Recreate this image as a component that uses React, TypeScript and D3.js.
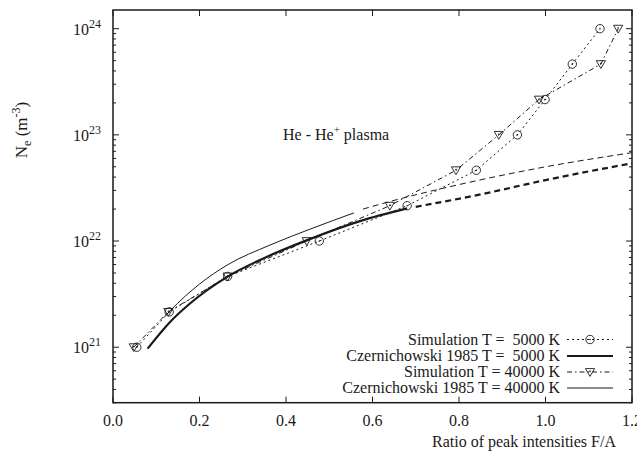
import React from "react";
import * as d3 from "d3";

// Simulation T = 5000 K (circles)
const sim5000X = [0.055, 0.13, 0.265, 0.477, 0.68, 0.84, 0.935, 0.999, 1.062, 1.126];
const sim5000Y = [1.0e21, 2.15e21, 4.64e21, 1.0e22, 2.15e22, 4.64e22, 1.0e23, 2.15e23, 4.64e23, 1.0e24];
// Simulation T = 40000 K (triangles)
const sim40000X = [0.048, 0.128, 0.265, 0.448, 0.64, 0.793, 0.892, 0.985, 1.128, 1.168];
const sim40000Y = [1.0e21, 2.15e21, 4.64e21, 1.0e22, 2.15e22, 4.64e22, 1.0e23, 2.15e23, 4.64e23, 1.0e24];
// Czernichowski 1985 T = 5000 K (thick) solid + extrapolated dashed
const cz5000X = [0.08, 0.132, 0.178, 0.264, 0.356, 0.449, 0.571, 0.68];
const cz5000Y = [0.97e21, 1.73e21, 2.58e21, 4.6e21, 7.1e21, 1.02e22, 1.54e22, 2.03e22];
const cz5000ExtX = [0.70, 0.85, 1.0, 1.2];
const cz5000ExtY = [2.1e22, 2.75e22, 3.75e22, 5.4e22];
// Czernichowski 1985 T = 40000 K (thin) solid + extrapolated dashed
const cz40000X = [0.12, 0.132, 0.2, 0.264, 0.363, 0.457, 0.557];
const cz40000Y = [1.95e21, 2.2e21, 3.93e21, 5.94e21, 9.16e21, 1.3e22, 1.84e22];
const cz40000ExtX = [0.578, 0.664, 0.8, 1.0, 1.2];
const cz40000ExtY = [2.0e22, 2.5e22, 3.4e22, 5.0e22, 6.8e22];

const xTicks = [0.0, 0.2, 0.4, 0.6, 0.8, 1.0, 1.2];
const xTickLabels = ["0.0", "0.2", "0.4", "0.6", "0.8", "1.0", "1.2"];
const yExponents = [21, 22, 23, 24];

const legendLabels = [
  "Simulation T =  5000 K",
  "Czernichowski 1985 T =  5000 K",
  "Simulation T = 40000 K",
  "Czernichowski 1985 T = 40000 K",
];

const W = 637;
const H = 454;
const L = 113, R = 632, T = 10, B = 402.7;
const INK = "#1a1a1a";
const FONT = "'Liberation Serif', 'Times New Roman', serif";
const FS = 16;

const zip = (xs: number[], ys: number[]) => xs.map((x, i) => [x, ys[i]] as [number, number]);

export default function App() {
  const x = d3.scaleLinear().domain([0, 1.2]).range([L, R]);
  const y = d3.scaleLog().domain([3e20, 1.5e24]).range([B, T]);
  const line = d3
    .line<[number, number]>()
    .x((d) => x(d[0]))
    .y((d) => y(d[1]));
  const smooth = d3
    .line<[number, number]>()
    .x((d) => x(d[0]))
    .y((d) => y(d[1]))
    .curve(d3.curveMonotoneX);

  const minorTicks: number[] = [];
  for (let e = 20; e <= 24; e++) {
    for (let m = 2; m <= 9; m++) {
      const v = m * Math.pow(10, e);
      if (v >= 3e20 && v <= 1.5e24) minorTicks.push(v);
    }
  }

  const circle = (cx: number, cy: number, k: string) => (
    <g key={k}>
      <circle cx={cx} cy={cy} r={4.2} fill="none" stroke={INK} strokeWidth={0.9} />
      <circle cx={cx} cy={cy} r={0.8} fill={INK} />
    </g>
  );
  const tri = (cx: number, cy: number, k: string) => (
    <g key={k}>
      <path
        d={`M${cx - 4.6},${cy - 3.4} L${cx + 4.6},${cy - 3.4} L${cx},${cy + 4.4} Z`}
        fill="none"
        stroke={INK}
        strokeWidth={0.9}
      />
      <circle cx={cx} cy={cy - 0.6} r={0.8} fill={INK} />
    </g>
  );

  const sim5 = zip(sim5000X, sim5000Y);
  const sim40 = zip(sim40000X, sim40000Y);

  const legendY = [339.5, 356, 372, 388];
  const legendTextX = 560;
  const lx0 = 567, lx1 = 613, lmx = 590;

  return (
    <svg
      width={W}
      height={H}
      style={{ position: "absolute", left: 0, top: 0, background: "#fff" }}
      fontFamily={FONT}
    >
      <rect x={0} y={0} width={W} height={H} fill="#fff" />
      {/* curves */}
      <path d={smooth(zip(cz40000X, cz40000Y)) || ""} fill="none" stroke={INK} strokeWidth={1} />
      <path
        d={smooth(zip(cz40000ExtX, cz40000ExtY)) || ""}
        fill="none"
        stroke={INK}
        strokeWidth={1}
        strokeDasharray="6,4"
      />
      <path d={smooth(zip(cz5000X, cz5000Y)) || ""} fill="none" stroke={INK} strokeWidth={2.2} />
      <path
        d={smooth(zip(cz5000ExtX, cz5000ExtY)) || ""}
        fill="none"
        stroke={INK}
        strokeWidth={2.2}
        strokeDasharray="6,4"
      />
      <path d={line(sim5) || ""} fill="none" stroke={INK} strokeWidth={1} strokeDasharray="2,3" />
      <path d={line(sim40) || ""} fill="none" stroke={INK} strokeWidth={1} strokeDasharray="5,3,1.5,3" />
      {sim5.map((d, i) => circle(x(d[0]), y(d[1]), "c" + i))}
      {sim40.map((d, i) => tri(x(d[0]), y(d[1]), "t" + i))}

      {/* frame */}
      <rect x={L} y={T} width={R - L} height={B - T} fill="none" stroke={INK} strokeWidth={1.5} />
      {/* x ticks */}
      {xTicks.map((v, i) => (
        <g key={"xt" + i}>
          <line x1={x(v)} x2={x(v)} y1={B} y2={B - 6} stroke={INK} strokeWidth={1} />
          <line x1={x(v)} x2={x(v)} y1={T} y2={T + 6} stroke={INK} strokeWidth={1} />
          <text x={x(v)} y={426} fontSize={FS} textAnchor="middle" fill={INK}>
            {xTickLabels[i]}
          </text>
        </g>
      ))}
      {/* y ticks */}
      {yExponents.map((e) => {
        const yy = y(Math.pow(10, e));
        return (
          <g key={"ye" + e}>
            <line x1={L} x2={L + 6} y1={yy} y2={yy} stroke={INK} strokeWidth={1} />
            <line x1={R} x2={R - 6} y1={yy} y2={yy} stroke={INK} strokeWidth={1} />
            <text x={89} y={yy + 6} fontSize={FS} textAnchor="end" fill={INK}>
              10
            </text>
            <text x={89} y={yy - 1} fontSize={12} textAnchor="start" fill={INK}>
              {e}
            </text>
          </g>
        );
      })}
      {minorTicks.map((v, i) => (
        <g key={"ym" + i}>
          <line x1={L} x2={L + 3} y1={y(v)} y2={y(v)} stroke={INK} strokeWidth={1} />
          <line x1={R} x2={R - 3} y1={y(v)} y2={y(v)} stroke={INK} strokeWidth={1} />
        </g>
      ))}

      {/* axis titles */}
      <text x={616} y={447} fontSize={FS} textAnchor="end" fill={INK}>
        Ratio of peak intensities F/A
      </text>
      <g transform="translate(27,130) rotate(-90)">
        <text x={0} y={0} fontSize={17} textAnchor="middle" fill={INK}>
          N<tspan fontSize={12} dy={4}>e</tspan>
          <tspan dy={-4}> (m</tspan>
          <tspan fontSize={12} dy={-7}>-3</tspan>
          <tspan dy={7}>)</tspan>
        </text>
      </g>

      {/* annotation */}
      <text x={283} y={140} fontSize={FS} fill={INK}>
        He - He<tspan fontSize={11} dy={-7}>+</tspan>
        <tspan dy={7}> plasma</tspan>
      </text>

      {/* legend */}
      {legendLabels.map((lab, i) => (
        <text
          key={"lg" + i}
          x={legendTextX}
          y={legendY[i] + 5}
          fontSize={FS}
          textAnchor="end"
          fill={INK}
          style={{ whiteSpace: "pre" }}
        >
          {lab}
        </text>
      ))}
      <line x1={lx0} x2={lx1} y1={legendY[0]} y2={legendY[0]} stroke={INK} strokeWidth={1} strokeDasharray="2,3" />
      {circle(lmx, legendY[0], "lc")}
      <line x1={lx0} x2={lx1} y1={legendY[1]} y2={legendY[1]} stroke={INK} strokeWidth={2.2} />
      <line x1={lx0} x2={lx1} y1={legendY[2]} y2={legendY[2]} stroke={INK} strokeWidth={1} strokeDasharray="5,3,1.5,3" />
      {tri(lmx, legendY[2], "lt")}
      <line x1={lx0} x2={lx1} y1={legendY[3]} y2={legendY[3]} stroke={INK} strokeWidth={1} />
    </svg>
  );
}
